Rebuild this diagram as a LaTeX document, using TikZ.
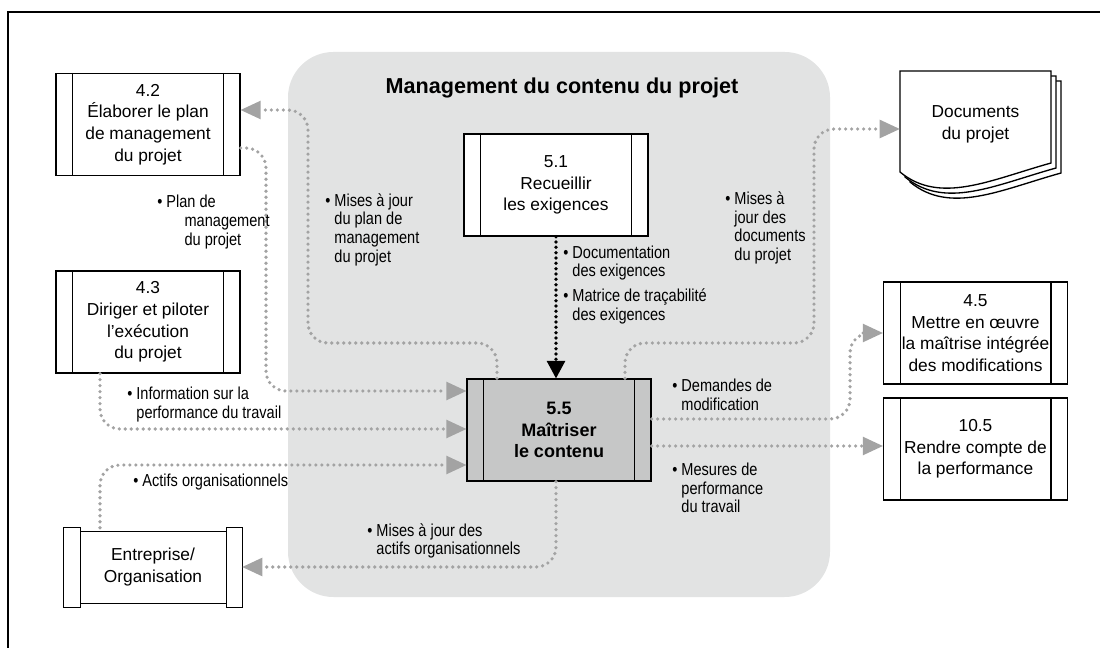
\documentclass[tikz,border=0pt]{standalone}
\usepackage{fontspec}
\setmainfont{Liberation Sans}
\newfontfamily\condfont{Liberation Sans}[FakeStretch=0.84]
\usetikzlibrary{arrows.meta}
\definecolor{zonegray}{HTML}{E2E3E3}
\definecolor{dotgray}{HTML}{A3A3A3}
\definecolor{boxgray}{HTML}{C6C7C7}
\newcommand{\bul}{\textbullet\ }
\newcommand{\lblind}{\hphantom{\textbullet\ }}

\begin{document}
\begin{tikzpicture}[x=0.75pt,y=-0.75pt,
  proc/.style={draw, line width=1pt, fill=white, minimum width=138pt,
    minimum height=76.5pt, inner sep=0pt, align=center,
    font=\fontsize{13}{16.3}\selectfont},
  lbl/.style={anchor=west, inner sep=0pt, align=left,
    font=\condfont\fontsize{13}{14}\selectfont},
  flow/.style={draw=dotgray, line width=2.7pt, line cap=round,
    dash pattern=on 0pt off 4.5pt, rounded corners=15pt,
    -{Triangle[length=15pt,width=14pt,line width=0pt]}},
  reqflow/.style={draw=black, line width=2.8pt, line cap=round,
    dash pattern=on 0pt off 4pt,
    -{Triangle[length=13pt,width=14pt,line width=0pt]}}]
  \useasboundingbox (0,0) rectangle (1100,648);
  \draw[line width=1.6pt] (8,648) -- (8,12) -- (1100,12);

  % scope area
  \fill[zonegray, rounded corners=34pt] (288,52) rectangle (830,597);
  \node[font=\bfseries\fontsize{16.2}{18}\selectfont] (title) at (562,88)
    {Management du contenu du projet};

  % processes
  \node[proc] (p42) at (148,124.5) {4.2\\Élaborer le plan\\de management\\du projet};
  \node[proc] (p43) at (148,322) {4.3\\Diriger et piloter\\l’exécution\\du projet};
  \node[proc] (p51) at (556,185) {5.1\\Recueillir\\les exigences};
  \node[proc, fill=boxgray, font=\bfseries\fontsize{13.5}{16.3}\selectfont]
    (p55) at (559,430) {5.5\\Maîtriser\\le contenu};
  \node[proc] (p45) at (975.5,333) {4.5\\Mettre en œuvre\\la maîtrise intégrée\\des modifications};
  \node[proc] (p105) at (975.5,449) {10.5\\Rendre compte de\\la performance};
  \foreach \n in {p42,p43,p51,p55,p45,p105}{
    \draw[line width=1pt] ([xshift=13pt]\n.north west) -- ([xshift=13pt]\n.south west);
    \draw[line width=1pt] ([xshift=-13pt]\n.north east) -- ([xshift=-13pt]\n.south east);
  }

  % enterprise
  \node[inner sep=0pt, minimum width=133.5pt, minimum height=59.25pt] (ent) at (153,567.5) {};
  \draw[line width=1pt, fill=white] ([xshift=12.75pt,yshift=-3pt]ent.north west)
    rectangle ([xshift=-12pt,yshift=3pt]ent.south east);
  \draw[line width=1pt, fill=white] (ent.north west) rectangle ([xshift=12.75pt]ent.south west);
  \draw[line width=1pt, fill=white] ([xshift=-12pt]ent.north east) rectangle (ent.south east);
  \node[align=center, font=\fontsize{13}{16.5}\selectfont] (entlbl) at (ent) {Entreprise/\\Organisation};

  % project documents
  \foreach \o in {10,5,0}{
    \filldraw[fill=white, line width=1pt] (900+\o,71+\o) -- (1051+\o,71+\o) -- (1051+\o,163+\o)
      .. controls (990+\o,180+\o) and (940+\o,205+\o) .. (900+\o,172+\o) -- cycle;
  }
  \node[inner sep=0pt, minimum width=113.25pt, minimum height=70pt, align=center,
    font=\fontsize{13}{16.5}\selectfont] (docs) at (975.5,124) {Documents\\du projet};

  % flows
  \draw[flow] (497,0 |- p55.north) -- (497,343) -- (308,343) -- (308,110) -- (p42.east |- 0,110);
  \draw[flow] (p42.east |- 0,148) -- (266,148) -- (266,391) -- (p55.west |- 0,391);
  \draw[flow] (100,0 |- p43.south) -- (100,429) -- (p55.west |- 0,429);
  \draw[flow] (100,0 |- ent.north) -- (100,465) -- (p55.west |- 0,465);
  \draw[flow] (556,0 |- p55.south) -- (556,567) -- (ent.east |- 0,567);
  \draw[flow] (625,0 |- p55.north) -- (625,343) -- (814,343) -- (814,129) -- ([yshift=-3.75pt]docs.west);
  \draw[flow] (p55.east |- 0,419) -- (850,419) -- (850,333) -- (p45.west |- 0,333);
  \draw[flow] (p55.east |- 0,446) -- (p105.west |- 0,446);
  \draw[reqflow] (p51.south) -- (p51.south |- p55.north);

  % labels
  \node[lbl] (l1) at (325,229.5) {\bul Mises à jour\\\lblind du plan de\\\lblind management\\\lblind du projet};
  \node[lbl] (l2) at (157,222) {\bul Plan de\\\hspace*{20.5pt}management\\\hspace*{20.5pt}du projet};
  \node[lbl] (l3) at (127,404.5) {\bul Information sur la\\\lblind performance du travail};
  \node[lbl] (l4) at (133,482) {\bul Actifs organisationnels};
  \node[lbl] (l5) at (367,541) {\bul Mises à jour des\\\lblind actifs organisationnels};
  \node[lbl] (l6) at (563,263) {\bul Documentation\\\lblind des exigences};
  \node[lbl] (l7) at (563,306.5) {\bul Matrice de traçabilité\\\lblind des exigences};
  \node[lbl] (l8) at (725,228) {\bul Mises à\\\lblind jour des\\\lblind documents\\\lblind du projet};
  \node[lbl] (l9) at (672,394.5) {\bul Demandes de\\\lblind modification};
  \node[lbl] (l10) at (672,488) {\bul Mesures de\\\lblind performance\\\lblind du travail};
\end{tikzpicture}
\end{document}
